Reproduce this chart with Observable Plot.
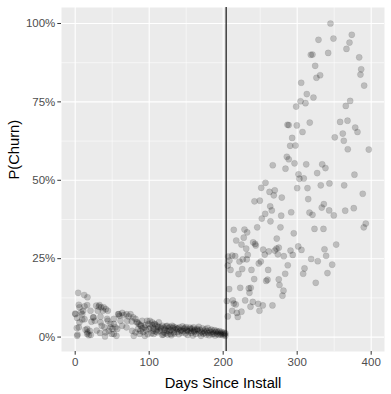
<!DOCTYPE html>
<html>
<head>
<meta charset="utf-8">
<script src="https://cdn.jsdelivr.net/npm/d3@7"></script>
<script src="https://cdn.jsdelivr.net/npm/@observablehq/plot@0.6"></script>
<style>
html,body{margin:0;padding:0;background:#fff;}
svg{font-family:"Liberation Sans",Arial,sans-serif;}
</style>
</head>
<body>
<div id="chart"></div>
<script>
// [day, churn %]
const earlyPoints = [
[4,14.1],[12.2,13.4],[16.6,12.7],[5.8,9.5],[0,7.5],[2.7,6.1],[10.8,8.4],[9.5,7.3],[16.2,10.2],[20.7,8.4],
[2.2,2.9],[3.1,0.8],[13.9,2.3],[19.7,2.0],[18.4,0.6],[16.6,1.5],[21.1,0.7],[5.8,4.7],[9.5,5.6],[12.6,5.7],
[28.4,10.0],[32.8,10.2],[35.1,9.5],[30.5,8.4],[37.3,8.4],[41.4,8.9],[44.1,8.4],[24.7,6.3],[26.5,5.2],[22,4.9],
[34.2,4.7],[35.9,3.6],[44.1,5.2],[47.7,4.2],[39.6,3.1],[41,1.5],[47.7,3.1],[29,2.1],[33.5,1.3],[40.3,0.2],
[49.3,1.0],[52.2,4.2],[50.4,2.6],[54.5,3.1],[56.8,2.6],[55.8,0.4],[4.9,10.3],[12.6,9.8],[0.4,7.3],[8.1,7.9],
[31.9,9.7],[38.6,9.5],[24.3,6.3],[34.2,6.5],[4.9,3.1],[16.2,2.6],[2.7,0.4],[16.2,1.0],[43.2,5.8],[52.2,5.8],
[45.4,2.0],[52.2,1.0],[58.9,7.3],
[58.1,7.3],[59.9,6.8],[63.5,7.7],[65.7,7.0],[69.3,7.3],[72.4,6.6],[74.7,7.3],[78.4,6.3],[81.5,5.8],[61.2,5.2],
[70.3,5.2],[76.5,5.0],[82.9,4.7],[86,4.2],[88.2,3.8],[63.5,3.6],[69.3,3.1],[77,2.0],[81.5,1.5],[88.2,2.0],
[79.2,0.4],[94.1,0.4],[84.2,4.7],[90.5,5.2],[97.3,5.2],[100.8,5.2],[104.1,4.7],[107.2,4.2],[110.8,3.6],[93.6,3.1],
[100,2.6],[105.4,2.0],[106.2,1.0],[110.8,1.5],[117.6,0.7],[119.7,1.5],[124.3,2.0],[128.8,1.0],[133.2,1.5],[137.8,2.6],
[142.3,2.0],[146.8,2.6],[151.4,2.0],[155.8,2.6],[160.3,2.0],[164.9,2.3],[124.3,3.6],[131.1,3.6],[115.3,3.1],[104.1,3.8],
[113,4.7],[85,2.6],[87,1.0],[89,3.5],[91,2.8],[92,1.6],[95,3.8],[96,2.2],[98,0.9],[99,4.2],
[102,3.0],[103,1.2],[106,2.8],[108,4.0],[109,1.8],[111,2.4],[112,3.2],[114,1.9],[116,2.7],[118,3.6],[119,0.8],
[120,3.0],[121,2.4],[122,1.2],[123,3.4],[125,0.8],[126,2.8],[127,1.8],[128,3.2],[129,2.2],[130,0.6],
[132,2.9],[133,3.3],[134,1.1],[135,2.4],[136,3.0],[138,1.6],[139,2.8],[140,0.9],[141,3.1],[143,2.2],
[144,1.4],[145,3.4],[146,1.9],[148,2.9],[149,1.2],[150,3.2],[151,2.4],[152,0.7],[153,1.8],[155,3.0],
[156,2.1],[157,1.3],[158,2.7],[159,0.5],[160,3.1],[161,1.7],[162,2.3],[163,1.0],[165,2.6],[166,1.9],
[167,3.3],[168,1.2],[169,2.2],[170,0.4],[171,1.6],[172,2.8],[173,1.1],[174,2.0],[175,1.4],[176,2.5],
[177,0.8],[178,1.8],[179,2.9],[180,1.3],[181,0.6],[182,2.1],[183,1.5],[184,2.4],[185,0.9],[186,1.7],
[187,1.1],[188,2.2],[189,0.5],[190,1.5],[191,2.0],[192,1.0],[193,1.6],[194,0.7],[195,1.9],[196,1.2],
[197,0.8],[198,1.6],[199,1.1],[200,0.6],[201,1.4],[202,0.9],[203,1.2],[203,0.4]
];
const latePoints = [
[345,100],[373.8,96.4],[328.8,94.8],[349,95.2],[370.7,93.9],[366.6,91.9],[341.9,90.6],[318.4,90.0],[320.7,90.1],[383.8,89.2],
[324.3,86.5],[386.5,85.4],[385.5,83.7],[331,83.5],[326,82.7],[390.5,80.2],[305.4,81.1],[313,77.5],[322,76.4],[371.6,75.3],
[304.5,75.2],[311.2,74.6],[365.7,73.7],[298.6,73.5],[317,68.4],[286.9,67.7],[288.6,67.6],[299.5,67.5],[358,68.6],[368,69.0],
[378.4,66.8],[381.5,65.4],[307.2,65.4],[361.6,64.9],[350.8,63.7],[293.2,63.5],[363,62.6],[290.5,61.0],[297.7,61.1],[368.4,59.9],
[396.8,59.8],[286,57.5],[288.6,56.7],[267,54.8],[284.2,53.7],[296.4,55.4],[312.2,55.1],[333.8,55.1],[338.2,53.9],[327,52.3],
[377.4,51.8],[301.8,51.9],[303,50.5],[308.9,50.6],[257.2,49.2],[251.4,47.6],[262.6,46.3],[269.7,46.8],[268.4,45.2],[300,47.5],
[313.9,47.5],[331.9,48.4],[343.6,49.0],[363.5,48.4],[388.6,45.7],[279.2,44.5],[242.3,43.3],[249.5,43.5],[314.9,44.0],[263.5,41.7],
[265.7,40.4],[291.9,39.8],[316.6,39.7],[320.7,39.0],[333.2,41.3],[336,42.4],[343.2,40.4],[349.5,38.8],[364.9,40.3],[376.5,41.1],
[256.8,39.3],[252.2,37.8],[278.4,38.7],[263.9,36.9],[246,35.0],[277.4,35.0],[214.3,34.2],[228.8,34.3],[323.4,34.5],[335.5,34.5],
[390,35.0],[392.7,36.2],[232.4,33.4],[295.4,33.1],
[217.6,30.8],[227.8,31.7],[272.4,31.4],[224.7,29.5],[240.5,30.2],[243.2,29.7],[244,29.2],[231.1,28.2],[254,27.9],[261.6,27.3],
[256.2,26.3],[269.7,27.6],[272,28.2],[275.1,28.5],[301.4,28.9],[305.8,27.8],[291,27.6],[294,26.2],[281.9,25.8],[273.8,26.4],
[336.9,28.0],[339.1,25.9],[352.7,29.5],[206.8,25.7],[212.2,26.0],[216.2,25.8],[208.5,24.4],[206.2,22.8],[233.2,26.2],[222,24.1],
[226.5,24.8],[231.9,24.8],[248.1,23.5],[250.8,24.1],[318.9,24.9],[327.8,24.2],[209.9,21.4],[220.7,20.1],[225.7,21.7],[238.2,21.4],
[260.8,21.4],[287.3,22.9],[283.8,20.2],[309.9,21.9],[308.1,20.2],[347.3,23.1],[340.9,20.4],[241.9,18.5],[258.1,17.9],[259.9,18.3],
[275.1,18.4],[276.1,16.6],[208.1,15.3],[223,15.7],[234.6,15.5],[237.3,15.7],[235.5,14.1],[281.5,14.8],[280.1,13.2],[325.1,17.3],
[204.9,11.5],[213,11.7],[214.3,10.7],[217,10.4],[229.7,11.7],[240,11.2],[236.9,9.7],[247.3,10.6],[253.5,10.1],[249,8.4],
[266.6,10.1],[212.2,8.4],[218.4,7.7],[224.7,8.1],[219.7,6.4],[206.2,6.6]
];
const changeDay = [204];
const xTicks = [0, 100, 200, 300, 400];
const xMinor = [50, 150, 250, 350];
const yTicks = [0, 0.25, 0.5, 0.75, 1];
const yMinor = [0.125, 0.375, 0.625, 0.875];
const xTitle = "Days Since Install";
const yTitle = "P(Churn)";

const data = earlyPoints.concat(latePoints).map(([d, p]) => ({day: d, churn: p / 100}));

const chart = Plot.plot({
  width: 391,
  height: 394,
  marginLeft: 61,
  marginRight: 7,
  marginTop: 7,
  marginBottom: 43,
  style: {fontFamily: '"Liberation Sans", Arial, sans-serif', background: "#fff"},
  x: {domain: [-18.5, 418]},
  y: {domain: [-0.046, 1.051]},
  marks: [
    Plot.frame({fill: "#ebebeb", stroke: null}),
    Plot.ruleX(xMinor, {stroke: "#fff", strokeWidth: 0.55}),
    Plot.ruleY(yMinor, {stroke: "#fff", strokeWidth: 0.55}),
    Plot.ruleX(xTicks, {stroke: "#fff", strokeWidth: 1.1}),
    Plot.ruleY(yTicks, {stroke: "#fff", strokeWidth: 1.1}),
    Plot.dot(data, {x: "day", y: "churn", r: 3.1, fill: "#000", fillOpacity: 0.2, stroke: "#000", strokeOpacity: 0.12, strokeWidth: 0.6}),
    Plot.ruleX(changeDay, {stroke: "#000", strokeWidth: 1.1}),
    Plot.axisX(xTicks, {tickSize: 3.7, tickPadding: 2.5, fontSize: 11.5, color: "#4d4d4d", stroke: "#333", label: null}),
    Plot.axisY(yTicks, {tickSize: 3.7, tickPadding: 2.5, fontSize: 11.5, color: "#4d4d4d", stroke: "#333", tickFormat: d3.format(".0%"), label: null}),
    Plot.text([xTitle], {text: d => d, frameAnchor: "bottom", dy: 36, fontSize: 14.7, fill: "#000"}),
    Plot.text([yTitle], {text: d => d, frameAnchor: "left", rotate: -90, dx: -47, fontSize: 14.7, fill: "#000"})
  ]
});
document.getElementById("chart").appendChild(chart);
</script>
</body>
</html>
